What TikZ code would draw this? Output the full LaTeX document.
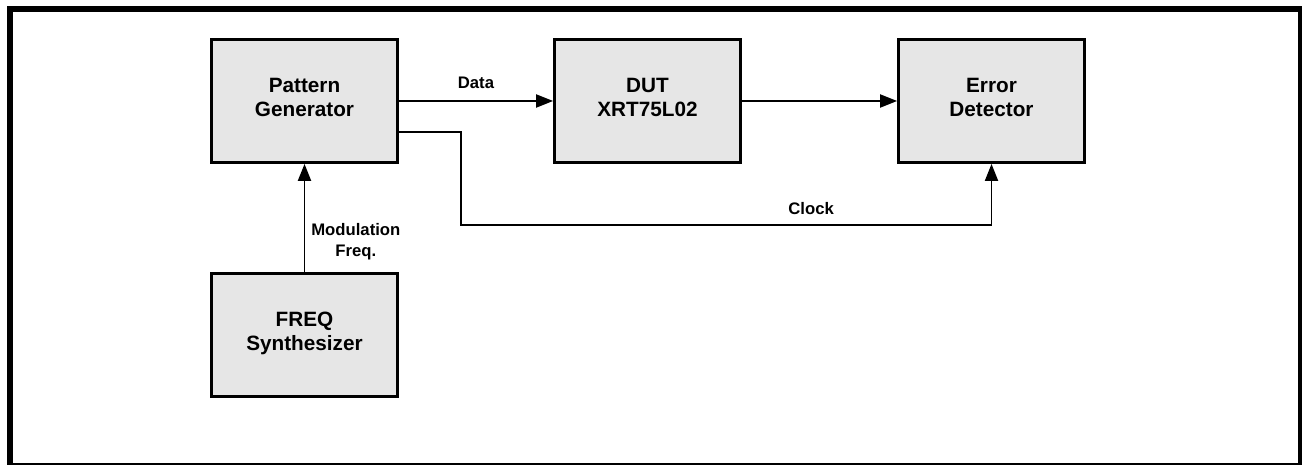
\documentclass[tikz,border=0pt]{standalone}
\usepackage{fontspec}
\setmainfont{Liberation Sans}
\usepackage{xcolor}
\usepackage{tikz}
\usetikzlibrary{arrows.meta, positioning, calc}
\definecolor{boxgray}{RGB}{230,230,230}

\begin{document}
\begin{tikzpicture}[
  every node/.style={font=\fontsize{9.5}{11.9}\selectfont\bfseries},
  block/.style={rectangle, draw=black, fill=boxgray, line width=1.6pt,
                minimum width=3.72cm, minimum height=2.46cm, align=center,
                text depth=0.15cm,
                font=\fontsize{11.8}{13.6}\selectfont\bfseries},
  arr/.style={-{Triangle[length=0.34cm, width=0.26cm]}, line width=1.1pt},
]
\useasboundingbox (0,0) rectangle (26.04,-9.3);

% outer frame
\draw[line width=0.12cm] (0.2,-0.18) rectangle (26.02,-9.31);

\node[block] (pg)   at (6.09,-2.02)  {Pattern\\Generator};
\node[block] (dut)  at (12.95,-2.02) {DUT\\XRT75L02};
\node[block] (ed)   at (19.83,-2.02) {Error\\Detector};
\node[block] (freq) at (6.09,-6.70)  {FREQ\\Synthesizer};

\coordinate (clk) at (9.22,-4.50);

\draw[arr] (pg)   -- node[above=3pt]{Data} (dut);
\draw[arr] (dut)  -- (ed);
\draw[arr] ([yshift=-0.62cm]pg.east) -| (clk) -| node[pos=0.33, above=2pt]{Clock} (ed.south);
\draw[arr] (freq) -- node[pos=0.28, right, align=center]{Modulation\\Freq.} (pg);

\end{tikzpicture}
\end{document}
